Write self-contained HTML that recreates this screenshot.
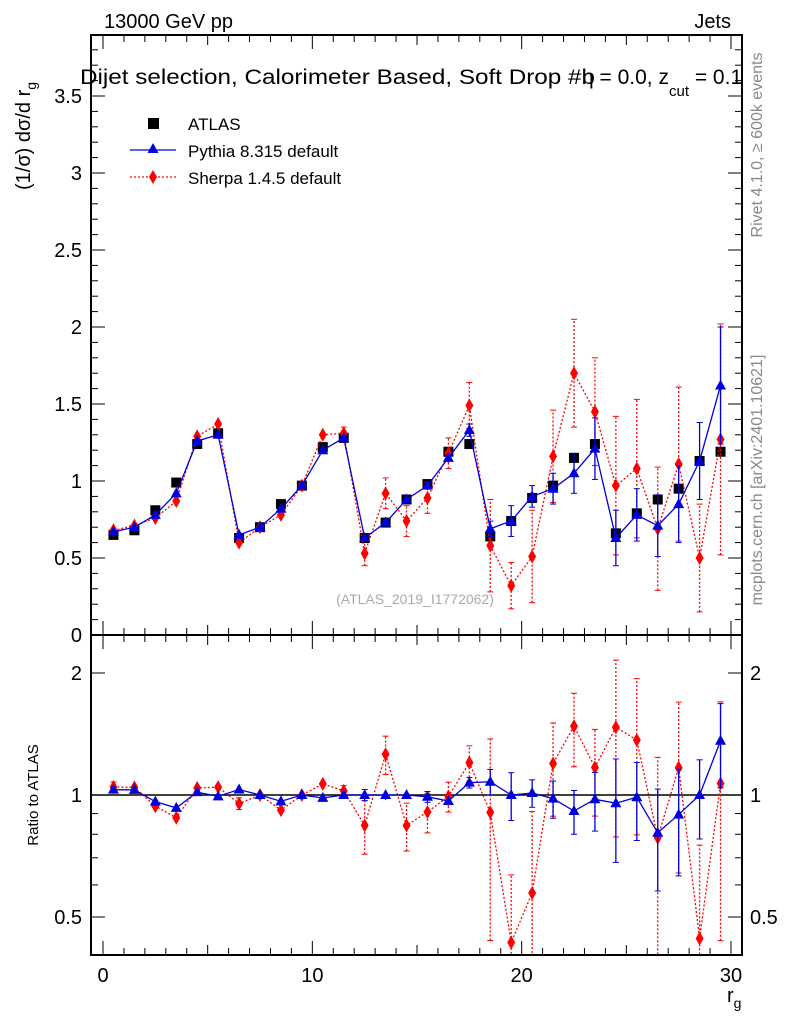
<!DOCTYPE html>
<html><head><meta charset="utf-8"><style>
html,body{margin:0;background:#fff;width:786px;height:1024px;overflow:hidden}
svg{font-family:"Liberation Sans",sans-serif;display:block}
</style></head><body>
<svg id="c" width="786" height="1024"></svg>
<script>
const bins=[0.5,1.5,2.5,3.5,4.5,5.5,6.5,7.5,8.5,9.5,10.5,11.5,12.5,13.5,14.5,15.5,16.5,17.5,18.5,19.5,20.5,21.5,22.5,23.5,24.5,25.5,26.5,27.5,28.5,29.5];
const atlas=[0.65,0.68,0.81,0.99,1.24,1.31,0.63,0.70,0.85,0.97,1.22,1.28,0.63,0.73,0.88,0.98,1.19,1.24,0.64,0.74,0.89,0.97,1.15,1.24,0.66,0.79,0.88,0.95,1.13,1.19];
const pythia=[0.67,0.70,0.78,0.92,1.26,1.30,0.65,0.70,0.82,0.97,1.20,1.28,0.63,0.73,0.88,0.97,1.15,1.33,0.69,0.74,0.90,0.95,1.05,1.21,0.63,0.78,0.71,0.85,1.13,1.62];
const pythiaErr=[0.01,0.01,0.01,0.01,0.01,0.01,0.01,0.01,0.01,0.01,0.01,0.01,0.02,0.02,0.02,0.03,0.03,0.04,0.05,0.1,0.07,0.1,0.13,0.2,0.18,0.17,0.2,0.25,0.25,0.38];
const sherpa=[0.68,0.71,0.76,0.87,1.29,1.37,0.60,0.70,0.78,0.97,1.30,1.31,0.53,0.92,0.74,0.89,1.18,1.49,0.58,0.32,0.51,1.16,1.70,1.45,0.97,1.08,0.69,1.11,0.50,1.27];
const sherpaErr=[0.02,0.02,0.02,0.02,0.02,0.02,0.02,0.02,0.02,0.02,0.02,0.04,0.08,0.1,0.1,0.1,0.1,0.15,0.3,0.15,0.3,0.3,0.35,0.35,0.45,0.45,0.4,0.5,0.35,0.75];
const mainTicks=["0","0.5","1","1.5","2","2.5","3","3.5"];
const ratioTicks=[0.5,1,2];
const xTicks=[0,10,20,30];

const S=document.getElementById('c');const NS='http://www.w3.org/2000/svg';
function el(t,a,p){const e=document.createElementNS(NS,t);for(const k in a)e.setAttribute(k,a[k]);(p||S).appendChild(e);return e;}
const L=91,R=742,T1=35,B1=635,B2=955;
const X=v=>103+v*(731-103)/30;
const Y=v=>635-v*154;
const YR=v=>795-122*Math.log2(v);
const gm=el('g',{});
const gr=el('g',{});
const defs=el('defs',{});
const c1=el('clipPath',{id:'c1'},defs);el('rect',{x:L,y:T1,width:R-L,height:B1-T1},c1);
const c2=el('clipPath',{id:'c2'},defs);el('rect',{x:L,y:B1,width:R-L,height:B2-B1},c2);
el('rect',{x:L,y:T1,width:R-L,height:B1-T1,fill:'none',stroke:'#000','stroke-width':2},gm);
el('rect',{x:L,y:B1,width:R-L,height:B2-B1,fill:'none',stroke:'#000','stroke-width':2},gr);
for(let i=0;i<=30;i++){const len=i%10==0?14:(i%5==0?10:7);const x=X(i);
 [[T1,1],[B1,-1],[B1,1],[B2,-1]].forEach(([y,d])=>el('line',{x1:x,x2:x,y1:y,y2:y+d*len,stroke:'#000','stroke-width':1}));}
xTicks.forEach(v=>{const t=el('text',{x:X(v),y:982,'font-size':20,'text-anchor':'middle'});t.textContent=v;});
for(let i=0;i<=38;i++){const v=i*0.1;const y=Y(v);if(y<T1)break;const len=i%5==0?14:7;
 el('line',{x1:L,x2:L+len,y1:y,y2:y,stroke:'#000'},gm);el('line',{x1:R,x2:R-len,y1:y,y2:y,stroke:'#000'},gm);}
mainTicks.forEach(s=>{const t=el('text',{x:82,y:Y(+s)+7,'font-size':20,'text-anchor':'end'},gm);t.textContent=s;});
[0.4,0.5,0.6,0.7,0.8,0.9,1,2].forEach(v=>{const y=YR(v);if(y>B2)return;const len=(v==0.5||v==1||v==2)?14:7;
 el('line',{x1:L,x2:L+len,y1:y,y2:y,stroke:'#000'},gr);el('line',{x1:R,x2:R-len,y1:y,y2:y,stroke:'#000'},gr);});
ratioTicks.forEach(v=>{[[82,'end'],[750,'start']].forEach(([x,a])=>{const t=el('text',{x:x,y:YR(v)+7,'font-size':20,'text-anchor':a},gr);t.textContent=v;});});
el('line',{x1:L,x2:R,y1:YR(1),y2:YR(1),stroke:'#000','stroke-width':1.5},gr);
function series(vals,errs,color,dash,marker,Yf,g,clip,name){
 const sg=el('g',{'clip-path':'url(#'+clip+')'},g);
 const pts=vals.map((v,i)=>X(bins[i])+','+Yf(v)).join(' ');
 el('polyline',{points:pts,fill:'none',stroke:color,'stroke-width':1.3,'stroke-dasharray':dash},sg);
 vals.forEach((v,i)=>{const x=X(bins[i]);
  if(errs){const e=errs[i];const y1=Yf(Math.max(v-e,0.01)),y2=Yf(v+e);
   el('line',{x1:x,x2:x,y1:y1,y2:y2,stroke:color,'stroke-width':1.3,'stroke-dasharray':dash},sg);
   if(e>0.03){el('line',{x1:x-3,x2:x+3,y1:y1,y2:y1,stroke:color},sg);el('line',{x1:x-3,x2:x+3,y1:y2,y2:y2,stroke:color},sg);}}
  const y=Yf(v);let m;
  if(marker=='tri')m=el('polygon',{points:`${x},${y-6} ${x-5.5},${y+4} ${x+5.5},${y+4}`,fill:color},sg);
  else m=el('polygon',{points:`${x},${y-7} ${x-4},${y} ${x},${y+7} ${x+4},${y}`,fill:color},sg);
  });}
const ag=el('g',{'clip-path':'url(#c1)'},gm);
atlas.forEach((v,i)=>{const r=el('rect',{x:X(bins[i])-5,y:Y(v)-5,width:10,height:10,fill:'#000'},ag);});
series(sherpa,sherpaErr,'#f00','2,2','dia',Y,gm,'c1','sherpa-series');
series(pythia,pythiaErr,'#00d','','tri',Y,gm,'c1','pythia-series');
series(sherpa.map((v,i)=>v/atlas[i]),sherpaErr.map((e,i)=>e/atlas[i]),'#f00','2,2','dia',YR,gr,'c2','sherpa-ratio');
series(pythia.map((v,i)=>v/atlas[i]),pythiaErr.map((e,i)=>e/atlas[i]),'#00d','','tri',YR,gr,'c2','pythia-ratio');
const lg=el('g',{});
el('rect',{x:148,y:118,width:11,height:11,fill:'#000'},lg);
el('line',{x1:130,x2:176,y1:150,y2:150,stroke:'#00d','stroke-width':1.3},lg);el('polygon',{points:'153,143 147.5,153 158.5,153',fill:'#00d'},lg);
el('line',{x1:130,x2:176,y1:177,y2:177,stroke:'#f00','stroke-width':1.3,'stroke-dasharray':'2,2'},lg);el('polygon',{points:'153,170 149,177 153,184 157,177',fill:'#f00'},lg);
[['ATLAS',130],['Pythia 8.315 default',157],['Sherpa 1.4.5 default',184]].forEach(([s,y])=>{const t=el('text',{x:188,y:y,'font-size':17},lg);t.textContent=s;});
function txt(s,a,name){const t=el('text',a);t.innerHTML=s;return t;}
txt('13000 GeV pp',{x:104,y:28,'font-size':20},'beam-label');
txt('Jets',{x:731,y:28,'font-size':20,'text-anchor':'end'},'category-label');
txt('Dijet selection, Calorimeter Based, Soft Drop #b',{x:80,y:84,'font-size':21,textLength:515,lengthAdjust:'spacingAndGlyphs'},'plot-title');
txt('η = 0.0, z<tspan font-size="15" dy="12">cut</tspan><tspan dy="-12"> = 0.1</tspan>',{x:582,y:84,'font-size':21},'plot-title-params');
txt('(ATLAS_2019_I1772062)',{x:415,y:604,'font-size':14,fill:'#aaa','text-anchor':'middle'},'analysis-id');
txt('(1/σ) dσ/d r<tspan font-size="14" dy="6">g</tspan>',{x:0,y:0,'font-size':20,transform:'translate(30,190) rotate(-90)'},'y-axis-title');
txt('Ratio to ATLAS',{x:0,y:0,'font-size':15,'text-anchor':'middle',transform:'translate(38,795) rotate(-90)'},'ratio-axis-title');
txt('r<tspan font-size="14" dy="6">g</tspan>',{x:727,y:1002,'font-size':20},'x-axis-title');
txt('Rivet 4.1.0, ≥ 600k events',{x:0,y:0,'font-size':16,fill:'#888','text-anchor':'middle',transform:'translate(762,145) rotate(-90)'},'rivet-label');
txt('mcplots.cern.ch [arXiv:2401.10621]',{x:0,y:0,'font-size':16,fill:'#888','text-anchor':'middle',transform:'translate(762,480) rotate(-90)'},'mcplots-label');
</script>
</body></html>
